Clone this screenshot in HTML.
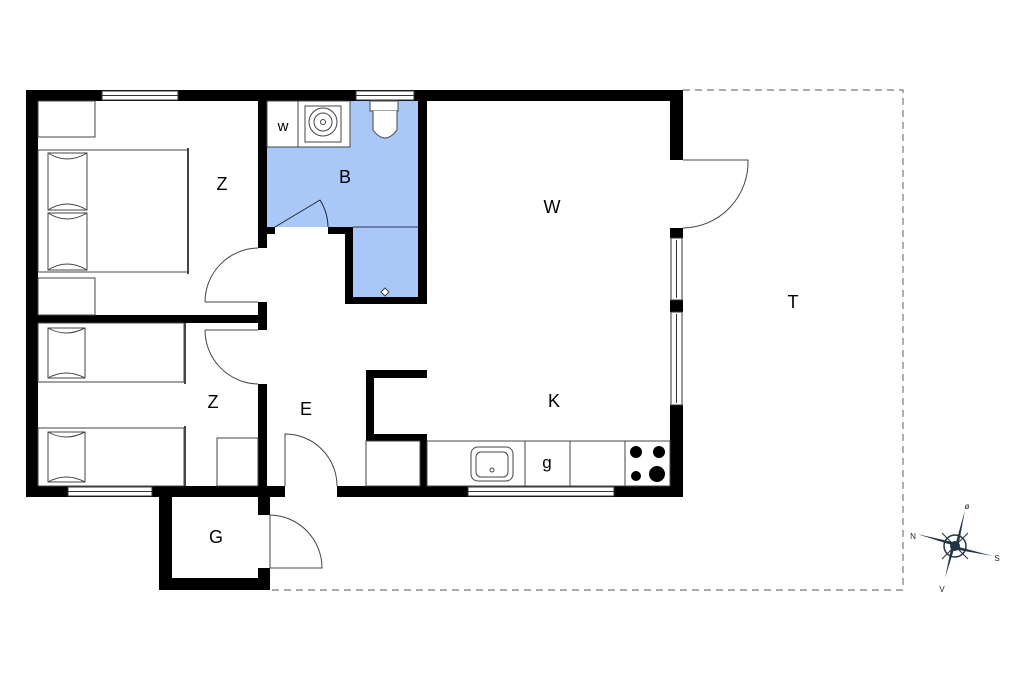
<!DOCTYPE html>
<html><head><meta charset="utf-8"><style>html,body{margin:0;padding:0;background:#fff}svg{display:block}</style></head>
<body>
<svg width="1024" height="682" viewBox="0 0 1024 682" xmlns="http://www.w3.org/2000/svg" font-family="Liberation Sans, sans-serif">
<!-- blue bathroom -->
<rect x="267" y="101" width="151" height="126" fill="#a9c8f8"/>
<rect x="353" y="227" width="65" height="70" fill="#a9c8f8"/>
<line x1="353" y1="227" x2="418" y2="227" stroke="#335" stroke-width="1"/>
<!-- terrace dashed -->
<path d="M683 90 H903 V590 H270" fill="none" stroke="#777" stroke-width="1.2" stroke-dasharray="7,5"/>
<g fill="#000">
<!-- outer walls -->
<rect x="26" y="90" width="657" height="11"/>
<rect x="26" y="90" width="12" height="407"/>
<rect x="26" y="486" width="259" height="11"/>
<rect x="337" y="486" width="346" height="11"/>
<rect x="670" y="90" width="13" height="70"/>
<rect x="670" y="228" width="13" height="10"/>
<rect x="670" y="300" width="13" height="12"/>
<rect x="670" y="405" width="13" height="92"/>
<!-- interior -->
<rect x="258" y="90" width="9" height="158"/>
<rect x="258" y="302" width="9" height="28"/>
<rect x="26" y="315" width="241" height="8"/>
<rect x="258" y="384" width="9" height="113"/>
<rect x="267" y="227" width="8" height="7"/>
<rect x="328" y="227" width="25" height="7"/>
<rect x="345" y="227" width="8" height="77"/>
<rect x="345" y="297" width="82" height="7"/>
<rect x="418" y="90" width="9" height="214"/>
<!-- fridge block -->
<rect x="366" y="370" width="61" height="8"/>
<rect x="366" y="370" width="8" height="71"/>
<rect x="366" y="434" width="61" height="7"/>
<rect x="420" y="434" width="7" height="52"/>
<!-- storage G -->
<rect x="159" y="486" width="13" height="104"/>
<rect x="159" y="578" width="111" height="12"/>
<rect x="258" y="486" width="12" height="29"/>
<rect x="258" y="568" width="12" height="22"/>
</g>
<!-- windows -->
<g fill="#fff" stroke="#333" stroke-width="1">
<rect x="102" y="91" width="76" height="9"/><line x1="102" y1="95.5" x2="178" y2="95.5"/>
<rect x="356" y="91" width="58" height="9"/><line x1="356" y1="95.5" x2="414" y2="95.5"/>
<rect x="68" y="487" width="84" height="9"/><line x1="68" y1="491.5" x2="152" y2="491.5"/>
<rect x="468" y="487" width="146" height="9"/><line x1="468" y1="491.5" x2="614" y2="491.5"/>
<rect x="671" y="238" width="11" height="62"/><line x1="676.5" y1="240" x2="676.5" y2="298"/>
<rect x="671" y="312" width="11" height="93"/><line x1="676.5" y1="314" x2="676.5" y2="403"/>
</g>
<!-- furniture -->
<g fill="none" stroke="#444" stroke-width="1">
<rect x="38" y="101" width="57" height="36"/>
<rect x="38" y="278" width="57" height="37"/>
<rect x="38" y="150" width="150" height="122"/>
<line x1="188" y1="148" x2="188" y2="274" stroke-width="2"/>
<rect x="48" y="153" width="39" height="57"/><rect x="48" y="213" width="39" height="57"/>
<path d="M48 153 Q67 165 87 153 M48 210 Q67 198 87 210 M48 213 Q67 225 87 213 M48 270 Q67 258 87 270"/>
<rect x="38" y="323" width="146" height="59"/><line x1="185" y1="323" x2="185" y2="384" stroke-width="2"/>
<rect x="48" y="328" width="37" height="50"/>
<path d="M48 328 Q66 338 85 328 M48 378 Q66 368 85 378"/>
<rect x="38" y="428" width="146" height="58"/><line x1="185" y1="426" x2="185" y2="486" stroke-width="2"/>
<rect x="48" y="432" width="37" height="50"/>
<path d="M48 432 Q66 442 85 432 M48 482 Q66 472 85 482"/>
<rect x="217" y="438" width="41" height="48"/>
<!-- bathroom items -->
<rect x="267" y="101" width="31" height="46" fill="#fff"/>
<rect x="298" y="101" width="52" height="46" fill="#fff"/>
<rect x="305" y="106" width="36" height="36"/>
<circle cx="323" cy="122" r="14"/><circle cx="323" cy="122" r="9"/><circle cx="323" cy="122" r="2.5"/>
<rect x="370" y="101" width="28" height="10" fill="#fff"/>
<path d="M373 111 V130 Q385 146 397 130 V111" fill="#fff"/>
<path d="M275 227 L320 200 A53 53 0 0 1 328 227" stroke="#223"/>
<path d="M381 292 L385 288 L389 292 L385 296 Z" fill="#fff"/>
<!-- doors -->
<path d="M205 302 H258 M258 248 A54 54 0 0 0 205 302"/>
<path d="M205 330 H258 M205 330 A54 54 0 0 0 258 384"/>
<path d="M285 486 V434 A52 52 0 0 1 337 486"/>
<path d="M270 568 V515 A53 53 0 0 1 322 568 H270"/>
<path d="M683 160 H748 A66 66 0 0 1 683 228"/>
<!-- kitchen -->
<rect x="427" y="441" width="243" height="45"/>
<line x1="525" y1="441" x2="525" y2="486"/><line x1="570" y1="441" x2="570" y2="486"/><line x1="625" y1="441" x2="625" y2="486"/>
<rect x="366" y="441" width="54" height="45"/>
<rect x="471" y="447" width="42" height="34" rx="7"/><rect x="476" y="452" width="32" height="25" rx="5"/>
<circle cx="492" cy="470" r="2"/>
</g>
<g fill="#000"><circle cx="636" cy="452" r="6"/><circle cx="659" cy="452" r="6"/><circle cx="636" cy="476" r="5"/><circle cx="657" cy="474" r="8"/></g>
<!-- labels -->
<g font-size="18" text-anchor="middle" fill="#000">
<text x="222" y="190">Z</text><text x="345" y="183">B</text><text x="552" y="213">W</text>
<text x="793" y="308">T</text><text x="213" y="408">Z</text><text x="306" y="415">E</text>
<text x="554" y="407">K</text><text x="216" y="543">G</text>
<text x="283" y="131" font-size="15">w</text><text x="547" y="468" font-size="17">g</text>
</g>
<!-- compass -->
<g transform="translate(955,546)">
<circle r="11" fill="none" stroke="#234" stroke-width="1.5"/>
<path d="M0 0 L10 -36 L3 2 Z" fill="#234"/><path d="M0 0 L-10 32 L-3 -2 Z" fill="#234"/>
<path d="M0 0 L-38 -12 L2 -3 Z" fill="#234"/><path d="M0 0 L38 10 L-2 3 Z" fill="#234"/>
<line x1="-13" y1="-13" x2="13" y2="13" stroke="#234"/><line x1="13" y1="-13" x2="-13" y2="13" stroke="#234"/>
<circle r="5" fill="#234"/>
<g font-size="8" text-anchor="middle" fill="#123"><text x="12" y="-37">ø</text><text x="-42" y="-7">N</text><text x="42" y="15">S</text><text x="-13" y="46">V</text></g>
</g>
</svg>
</body></html>
